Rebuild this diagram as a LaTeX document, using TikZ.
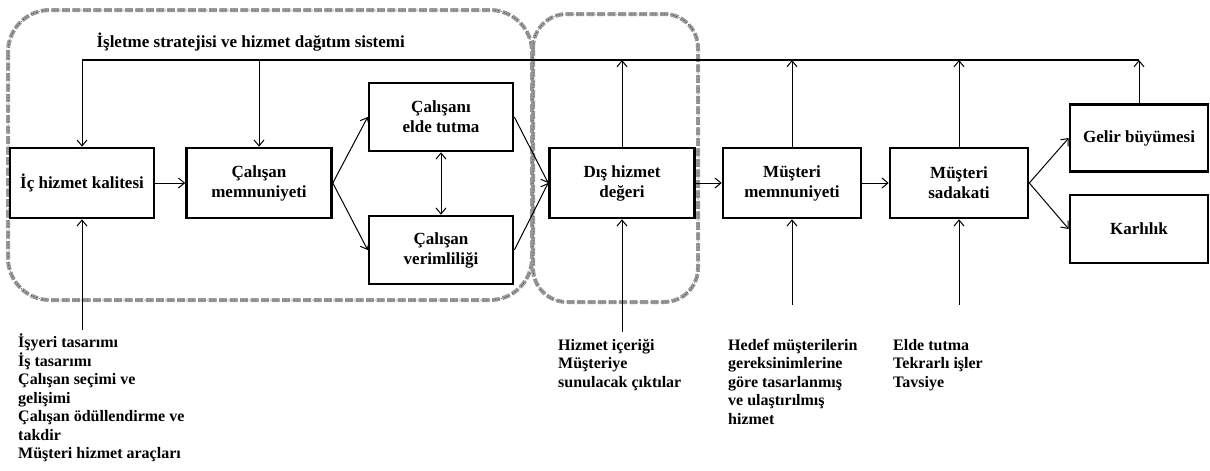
\documentclass[tikz,border=0pt]{standalone}
\usepackage{fontspec}
\setmainfont{Liberation Serif}
\usetikzlibrary{positioning, calc, arrows.meta}

\begin{document}
\begin{tikzpicture}[
    x=1pt, y=-1pt,
    box/.style={draw, line width=2.6pt, minimum width=144pt, minimum height=70pt, align=center, fill=white, font=\bfseries\fontsize{17}{20}\selectfont},
    note/.style={anchor=north west, align=left, inner sep=0pt, font=\bfseries\fontsize{16}{18.5}\selectfont},
    zone/.style={draw=black!40, line width=4pt, dash pattern=on 8pt off 2.5pt},
    zoneedge/.style={draw=black!80, line width=0.5pt, dash pattern=on 1pt off 2pt},
    link/.style={-{Straight Barb[length=6pt, width=10pt]}, line width=1pt},
    mainline/.style={line width=1.8pt}
]
    \useasboundingbox (0,0) rectangle (1210,471);

    % ================= ZONES =================
    \draw[zone, rounded corners=42pt] (8,10) rectangle (532,300);
    \draw[zoneedge, rounded corners=42pt] (8,10) rectangle (532,300);
    \draw[zone, rounded corners=34pt] (533,14) rectangle (698,302);
    \draw[zoneedge, rounded corners=34pt] (533,14) rectangle (698,302);

    % ================= BOXES =================
    \node[box] (IC) at (82,183) {İç hizmet kalitesi};
    \node[box, minimum width=145pt] (CMEM) at (259,183) {Çalışan\\memnuniyeti};
    \node[box, minimum height=68pt] (ELDE) at (441,117) {Çalışanı\\elde tutma};
    \node[box, minimum height=68pt] (VERIM) at (441,250) {Çalışan\\verimliliği};
    \node[box, minimum width=145pt] (DIS) at (622,183) {Dış hizmet\\değeri};
    \node[box, minimum width=138pt] (MMEM) at (792,183) {Müşteri\\memnuniyeti};
    \node[box, minimum width=138pt] (MSAD) at (959,183) {Müşteri\\sadakati};
    \node[box, minimum width=138pt, minimum height=67pt] (GELIR) at (1139,138) {Gelir büyümesi};
    \node[box, minimum width=138pt, minimum height=68pt] (KAR) at (1139,229) {Karlılık};

    % ================= TOP LINE =================
    \node[anchor=west, font=\bfseries\fontsize{17}{20}\selectfont] (title) at (93,42) {İşletme stratejisi ve hizmet dağıtım sistemi};
    \coordinate (topL) at (82,60);
    \coordinate (topR) at (1139,60);
    \draw[mainline] (topL) -- (topR);

    \draw[link] (topL) -- (IC.north);
    \draw[link] (CMEM.north |- topL) -- (CMEM.north);
    \draw[link] (DIS.north) -- (DIS.north |- topL);
    \draw[link] (MMEM.north) -- (MMEM.north |- topL);
    \draw[link] (MSAD.north) -- (MSAD.north |- topL);
    \draw[link] (GELIR.north) -- (topR);

    % ================= CHAIN =================
    \draw[link] (IC) -- (CMEM);
    \draw[link] (CMEM.east) -- (ELDE.west);
    \draw[link] (CMEM.east) -- (VERIM.west);
    \draw[{Straight Barb[length=6pt, width=10pt]}-{Straight Barb[length=6pt, width=10pt]}, line width=1pt] (ELDE) -- (VERIM);
    \draw[link] (ELDE.east) -- (DIS.west);
    \draw[link] (VERIM.east) -- (DIS.west);
    \draw[link] (DIS) -- (MMEM);
    \draw[link] (MMEM) -- (MSAD);
    \draw[link] (MSAD.east) -- (GELIR.west);
    \draw[link] (MSAD.east) -- (KAR.west);

    % ================= NOTES =================
    \node[note] (n_ic) at (18,334) {İşyeri tasarımı\\İş tasarımı\\Çalışan seçimi ve\\gelişimi\\Çalışan ödüllendirme ve\\takdir\\Müşteri hizmet araçları};
    \node[note] (n_dis) at (558,339) {Hizmet içeriği\\Müşteriye\\sunulacak çıktılar};
    \node[note] (n_mmem) at (728,339) {Hedef müşterilerin\\gereksinimlerine\\göre tasarlanmış\\ve ulaştırılmış\\hizmet};
    \node[note] (n_msad) at (893,339) {Elde tutma\\Tekrarlı işler\\Tavsiye};

    \coordinate (ic_in) at (82,330);
    \coordinate (dis_in) at (622,332);
    \coordinate (mmem_in) at (792,305);
    \coordinate (msad_in) at (959,305);
    \draw[link] (ic_in) -- (IC.south);
    \draw[link] (dis_in) -- (DIS.south);
    \draw[link] (mmem_in) -- (MMEM.south);
    \draw[link] (msad_in) -- (MSAD.south);

\end{tikzpicture}
\end{document}
